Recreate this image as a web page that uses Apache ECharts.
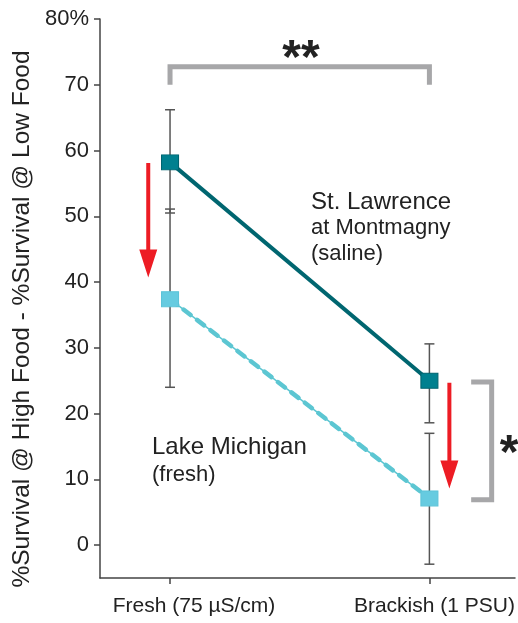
<!DOCTYPE html>
<html>
<head>
<meta charset="utf-8">
<script src="https://cdn.jsdelivr.net/npm/echarts@6/dist/echarts.min.js"></script>
<style>
  html, body { margin: 0; padding: 0; background: #fff; }
  #chart { width: 518px; height: 623px; }
</style>
</head>
<body>
<div id="chart"></div>
<script>
// Salinity treatments (x positions 0 and 1 on a value axis)
const categories = ['Fresh (75 µS/cm)', 'Brackish (1 PSU)'];
const yTicks = [0, 10, 20, 30, 40, 50, 60, 70, 80];

// St. Lawrence at Montmagny (saline): mean and error bar bounds
const stLawrenceMean = [58.2, 25.0];
const stLawrenceLow = [50.5, 18.6];
const stLawrenceHigh = [66.2, 30.6];

// Lake Michigan (fresh): mean and error bar bounds
const michiganMean = [37.4, 7.1];
const michiganLow = [24.0, -2.9];
const michiganHigh = [51.1, 17.0];

// Red arrows: [x, from, to]
const arrows = [[-0.084, 58.1, 40.7], [1.077, 24.7, 8.6]];

// Significance brackets
const topBracket = { x0: 0, x1: 1, y: 72.75, end: 70 };
const sideBracket = { x: 1.24, arm: 1.161, y0: 24.8, y1: 6.9 };

const xs = [0, 1];
const pairs = (ys) => xs.map((x, i) => [x, ys[i]]);

const chart = echarts.init(document.getElementById('chart'));
const font = '"Liberation Sans", Arial, Helvetica, sans-serif';

function errorBars(lows, highs) {
  return xs.map((x, i) => [x, lows[i], highs[i]]);
}

const errorData = errorBars(stLawrenceLow, stLawrenceHigh).concat(errorBars(michiganLow, michiganHigh));

const labelStyle = { fontFamily: font, fontSize: 21, color: '#222' };

chart.setOption({
  animation: false,
  grid: { left: 100, right: 3, top: 19, bottom: 45 },
  xAxis: {
    type: 'value', min: -0.27, max: 1.33,
    splitLine: { show: false },
    axisLine: { onZero: false, lineStyle: { color: '#444', width: 1.5 } },
    axisTick: { customValues: xs, length: 6, lineStyle: { color: '#444', width: 1.5 } },
    axisLabel: {
      customValues: xs, margin: 18,
      formatter: (v) => (Math.round(v) === 0 ? '{a|' + categories[0] + '}' : '{b|' + categories[1] + '}'),
      rich: {
        a: Object.assign({ padding: [0, 0, 0, 48] }, labelStyle),
        b: Object.assign({ padding: [0, 0, 0, 10] }, labelStyle)
      }
    }
  },
  yAxis: {
    type: 'value', min: -5, max: 80,
    splitLine: { show: false },
    axisLine: { show: true, onZero: false, lineStyle: { color: '#444', width: 1.5 } },
    axisTick: { show: true, customValues: yTicks, length: 6, lineStyle: { color: '#444', width: 1.5 } },
    axisLabel: {
      customValues: yTicks, margin: 11,
      formatter: (v) => (v === 80 ? '80%' : String(v)),
      fontFamily: font, fontSize: 22, color: '#222'
    }
  },
  graphic: [
    {
      type: 'text', x: 22, y: 319, rotation: Math.PI / 2,
      style: {
        text: '%Survival @ High Food - %Survival @ Low Food',
        font: '24.5px ' + font, fill: '#222',
        align: 'center', verticalAlign: 'middle'
      }
    },
    { type: 'text', x: 311, y: 202, style: { text: 'St. Lawrence', font: '24px ' + font, fill: '#222', verticalAlign: 'middle' } },
    { type: 'text', x: 311, y: 228, style: { text: 'at Montmagny', font: '22px ' + font, fill: '#222', verticalAlign: 'middle' } },
    { type: 'text', x: 311, y: 254, style: { text: '(saline)', font: '22px ' + font, fill: '#222', verticalAlign: 'middle' } },
    { type: 'text', x: 152, y: 447, style: { text: 'Lake Michigan', font: '24px ' + font, fill: '#222', verticalAlign: 'middle' } },
    { type: 'text', x: 152, y: 475, style: { text: '(fresh)', font: '22px ' + font, fill: '#222', verticalAlign: 'middle' } },
    { type: 'text', x: 301, y: 60, style: { text: '**', font: 'bold 48px ' + font, fill: '#222', align: 'center', verticalAlign: 'middle' } },
    { type: 'text', x: 509, y: 455, style: { text: '*', font: 'bold 48px ' + font, fill: '#222', align: 'center', verticalAlign: 'middle' } }
  ],
  series: [
    {
      // error bars with caps
      type: 'custom',
      data: errorData,
      z: 1,
      renderItem: (params, api) => {
        const x = api.value(0);
        const lo = api.coord([x, api.value(1)]);
        const hi = api.coord([x, api.value(2)]);
        const cap = 5;
        const style = { stroke: '#555', lineWidth: 1.5 };
        return {
          type: 'group',
          children: [
            { type: 'line', shape: { x1: lo[0], y1: lo[1], x2: hi[0], y2: hi[1] }, style },
            { type: 'line', shape: { x1: lo[0] - cap, y1: lo[1], x2: lo[0] + cap, y2: lo[1] }, style },
            { type: 'line', shape: { x1: hi[0] - cap, y1: hi[1], x2: hi[0] + cap, y2: hi[1] }, style }
          ]
        };
      }
    },
    {
      type: 'line', name: 'Lake Michigan', data: pairs(michiganMean), z: 2,
      symbol: 'none', lineStyle: { color: '#5cc6d2', width: 1.5 }
    },
    {
      type: 'line', name: 'Lake Michigan dashes', data: pairs(michiganMean), z: 2,
      symbol: 'none', lineStyle: { color: '#5cc6d2', width: 4.5, type: [9, 8], cap: 'round' }
    },
    {
      type: 'line', name: 'St. Lawrence', data: pairs(stLawrenceMean), z: 2,
      symbol: 'none', lineStyle: { color: '#006670', width: 4 }
    },
    {
      type: 'scatter', data: pairs(stLawrenceMean), z: 3,
      symbol: 'rect', symbolSize: [17, 15],
      itemStyle: { color: '#00808f', borderColor: '#006470', borderWidth: 1, opacity: 1 }
    },
    {
      type: 'scatter', data: pairs(michiganMean), z: 3,
      symbol: 'rect', symbolSize: [17, 15],
      itemStyle: { color: '#66cbe0', borderColor: '#5cc3d8', borderWidth: 1, opacity: 1 }
    },
    {
      // red arrows
      type: 'custom', data: arrows, z: 4,
      renderItem: (params, api) => {
        const x = api.value(0);
        const a = api.coord([x, api.value(1)]);
        const b = api.coord([x, api.value(2)]);
        const headLen = 28, headHalf = 9, shaftHalf = 2;
        const baseY = b[1] - headLen;
        return {
          type: 'polygon',
          shape: {
            points: [
              [a[0] - shaftHalf, a[1]], [a[0] + shaftHalf, a[1]],
              [a[0] + shaftHalf, baseY], [a[0] + headHalf, baseY],
              [b[0], b[1]],
              [a[0] - headHalf, baseY], [a[0] - shaftHalf, baseY]
            ]
          },
          style: { fill: '#ed1c24' }
        };
      }
    },
    {
      // significance brackets
      type: 'custom', data: [[0]], z: 4,
      renderItem: (params, api) => {
        const t0 = api.coord([topBracket.x0, topBracket.y]);
        const t1 = api.coord([topBracket.x1, topBracket.y]);
        const tEnd = api.coord([topBracket.x0, topBracket.end]);
        const s0 = api.coord([sideBracket.arm, sideBracket.y0]);
        const s1 = api.coord([sideBracket.x, sideBracket.y0]);
        const s2 = api.coord([sideBracket.x, sideBracket.y1]);
        const s3 = api.coord([sideBracket.arm, sideBracket.y1]);
        const style = { stroke: '#a7a7a9', lineWidth: 5, fill: null, lineJoin: 'miter', lineCap: 'butt' };
        return {
          type: 'group',
          children: [
            { type: 'polyline', shape: { points: [[t0[0], tEnd[1]], t0, t1, [t1[0], tEnd[1]]] }, style },
            { type: 'polyline', shape: { points: [s0, s1, s2, s3] }, style }
          ]
        };
      }
    }
  ]
});
</script>
</body>
</html>
